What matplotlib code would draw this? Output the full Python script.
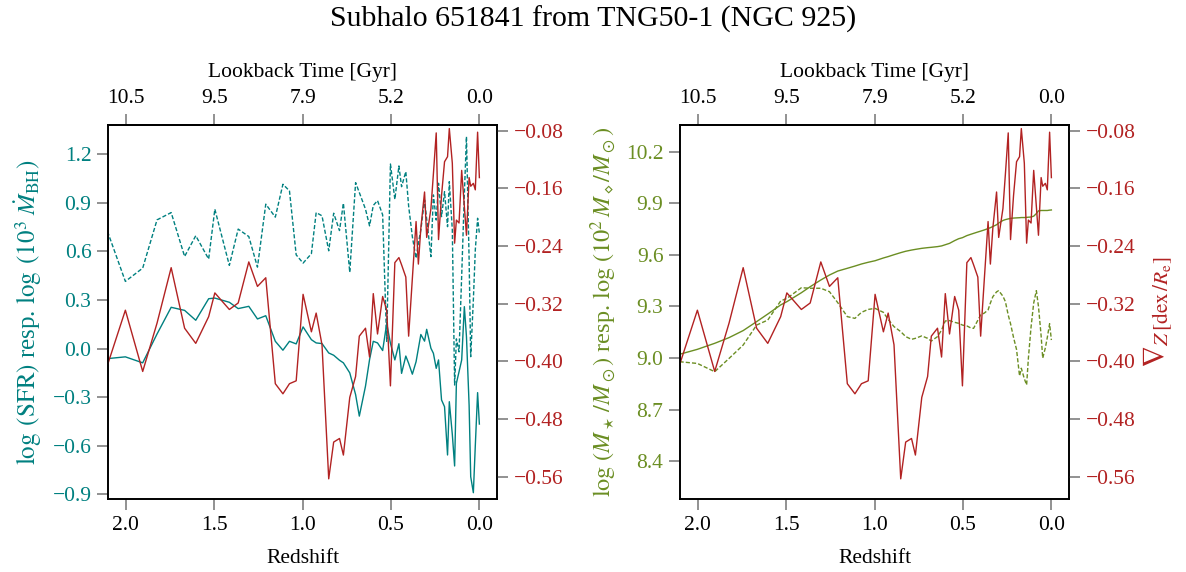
import matplotlib

matplotlib.use("Agg")
import matplotlib.pyplot as plt

# data (TNG50 snapshots 32..99)
redshift = [2.103, 2.002, 1.904, 1.823, 1.743, 1.667, 1.604, 1.531, 1.496, 1.414,
            1.364, 1.304, 1.255, 1.208, 1.154, 1.111, 1.074, 1.036, 0.997, 0.950,
            0.923, 0.890, 0.852, 0.824, 0.791, 0.769, 0.733, 0.700, 0.679, 0.644,
            0.621, 0.600, 0.576, 0.547, 0.524, 0.503, 0.478, 0.455, 0.440, 0.416,
            0.400, 0.379, 0.358, 0.345, 0.331, 0.310, 0.298, 0.274, 0.260, 0.244,
            0.231, 0.214, 0.197, 0.180, 0.170, 0.153, 0.140, 0.130, 0.115, 0.100,
            0.085, 0.073, 0.058, 0.049, 0.034, 0.023, 0.010, 0.000]

metal_grad = [-0.405, -0.329, -0.414, -0.347, -0.270, -0.354, -0.375, -0.338, -0.305, -0.328,
              -0.319, -0.262, -0.296, -0.284, -0.431, -0.445, -0.431, -0.427, -0.307, -0.359,
              -0.333, -0.377, -0.563, -0.512, -0.507, -0.530, -0.450, -0.421, -0.365, -0.354,
              -0.394, -0.306, -0.362, -0.310, -0.329, -0.434, -0.263, -0.256, -0.266, -0.283,
              -0.365, -0.285, -0.206, -0.265, -0.215, -0.165, -0.228, -0.188, -0.140, -0.083,
              -0.231, -0.170, -0.123, -0.116, -0.077, -0.125, -0.236, -0.204, -0.208, -0.135,
              -0.185, -0.225, -0.145, -0.157, -0.153, -0.162, -0.082, -0.145]

log_sfr = [-0.062, -0.051, -0.088, 0.090, 0.255, 0.236, 0.175, 0.308, 0.312, 0.286,
           0.247, 0.261, 0.183, 0.203, 0.045, -0.010, 0.045, 0.029, 0.134, 0.055,
           0.035, 0.031, -0.027, -0.041, -0.072, -0.088, -0.150, -0.284, -0.417, -0.232,
           -0.068, 0.045, 0.035, -0.012, 0.156, 0.033, -0.070, 0.030, -0.153, -0.046,
           -0.091, -0.158, -0.081, 0.000, 0.087, 0.046, 0.119, 0.002, -0.029, -0.122,
           -0.070, -0.317, -0.359, -0.657, -0.328, -0.530, -0.725, -0.214, -0.143, -0.070,
           0.259, 0.074, -0.350, -0.791, -0.890, -0.600, -0.272, -0.466]

log_bhar = [0.723, 0.415, 0.497, 0.795, 0.840, 0.569, 0.697, 0.553, 0.861, 0.514,
            0.738, 0.692, 0.503, 0.892, 0.812, 1.015, 0.974, 0.579, 0.528, 0.586,
            0.840, 0.820, 0.604, 0.836, 0.729, 0.898, 0.471, 1.025, 0.964, 0.861,
            0.758, 0.884, 0.914, 0.826, 0.045, 1.140, 0.922, 1.128, 1.000, 1.093,
            0.880, 0.691, 0.558, 0.650, 0.733, 0.918, 0.800, 0.568, 0.949, 0.794,
            1.021, 0.815, 0.969, 0.753, 1.031, 0.733, -0.225, 0.060, -0.020, 0.450,
            0.950, 1.309, 0.550, -0.050, 0.300, 0.609, 0.805, 0.712]

log_mstar = [9.022, 9.051, 9.086, 9.119, 9.160, 9.212, 9.256, 9.309, 9.328, 9.380,
             9.415, 9.454, 9.483, 9.506, 9.522, 9.535, 9.547, 9.557, 9.566, 9.582,
             9.590, 9.601, 9.613, 9.621, 9.628, 9.632, 9.638, 9.642, 9.644, 9.648,
             9.652, 9.659, 9.667, 9.683, 9.694, 9.700, 9.712, 9.720, 9.725, 9.733,
             9.738, 9.745, 9.753, 9.758, 9.765, 9.775, 9.785, 9.800, 9.805, 9.809,
             9.812, 9.814, 9.815, 9.816, 9.817, 9.817, 9.818, 9.819, 9.820, 9.825,
             9.840, 9.856, 9.858, 9.858, 9.858, 9.858, 9.860, 9.861]

log_mbh = [8.979, 8.969, 8.921, 8.998, 9.076, 9.192, 9.221, 9.332, 9.347, 9.409,
           9.406, 9.406, 9.386, 9.322, 9.241, 9.231, 9.266, 9.283, 9.289, 9.266,
           9.225, 9.183, 9.154, 9.125, 9.109, 9.115, 9.129, 9.115, 9.099, 9.125,
           9.163, 9.216, 9.218, 9.208, 9.202, 9.192, 9.187, 9.175, 9.173, 9.220,
           9.251, 9.262, 9.280, 9.320, 9.357, 9.385, 9.392, 9.360, 9.328, 9.250,
           9.200, 9.120, 9.050, 8.896, 8.941, 8.880, 8.844, 9.000, 9.180, 9.320,
           9.392, 9.300, 9.130, 9.000, 9.060, 9.120, 9.200, 9.105]

z_ticks = [2.0, 1.5, 1.0, 0.5, 0.0]
lookback_labels = ["10.5", "9.5", "7.9", "5.2", "0.0"]
sfr_ticks = [1.2, 0.9, 0.6, 0.3, 0.0, -0.3, -0.6, -0.9]
mass_ticks = [10.2, 9.9, 9.6, 9.3, 9.0, 8.7, 8.4]
grad_ticks = [-0.08, -0.16, -0.24, -0.32, -0.40, -0.48, -0.56]

TEAL = "#008080"
RED = "#B22222"
GREEN = "#6B8E23"
TICKC = "#7f7f7f"

plt.rcParams["font.family"] = ["Liberation Serif", "DejaVu Serif"]
plt.rcParams["mathtext.fontset"] = "stix"
plt.rcParams["font.size"] = 15.5
plt.rcParams["axes.linewidth"] = 1.2


def style(ax, color=None):
    ax.tick_params(direction="out", length=8, width=1.2, color=TICKC, pad=4)
    if color:
        ax.tick_params(axis="y", labelcolor=color)


def make_panel(rect):
    ax = fig.add_axes(rect)
    ax.set_xlim(2.10, -0.10)
    ax.set_xticks(z_ticks)
    ax.set_xticklabels([f"{z:.1f}" for z in z_ticks])
    ax.set_xlabel("Redshift", labelpad=10)
    top = ax.secondary_xaxis("top")
    top.set_xticks(z_ticks, labels=lookback_labels)
    top.set_xlabel("Lookback Time [Gyr]", labelpad=9)
    top.tick_params(direction="out", length=8, width=1.2, color=TICKC, pad=4)
    style(ax)
    twin = ax.twinx()
    twin.plot(redshift, metal_grad, color=RED, lw=1.0)
    twin.set_ylim(-0.591, -0.072)
    twin.set_yticks(grad_ticks)
    style(twin, RED)
    return ax, twin


fig = plt.figure(figsize=(11.86, 5.72), dpi=100)
fig.suptitle("Subhalo 651841 from TNG50-1 (NGC 925)", fontsize=21.5, y=0.99)

# left panel: SFR and BH accretion
ax1, tw1 = make_panel([0.0911, 0.1276, 0.328, 0.6539])
ax1.plot(redshift, log_sfr, color=TEAL, lw=1.0)
ax1.plot(redshift, log_bhar, color=TEAL, lw=1.0, dashes=(3, 1.5))
ax1.set_ylim(-0.929, 1.381)
ax1.set_yticks(sfr_ticks)
ax1.set_ylabel(r"$\log\;(\mathrm{SFR})$ resp. $\log\;(10^3\;\dot{M}_{\mathrm{BH}})$",
               color=TEAL, fontsize=18, labelpad=6)
style(ax1, TEAL)

# right panel: stellar and BH mass
ax2, tw2 = make_panel([0.5734, 0.1276, 0.328, 0.6539])
ax2.plot(redshift, log_mstar, color=GREEN, lw=1.0)
ax2.plot(redshift, log_mbh, color=GREEN, lw=1.0, dashes=(3, 1.5))
ax2.set_ylim(8.181, 10.355)
ax2.set_yticks(mass_ticks)
ax2.set_ylabel(r"$\log\,(M_\star\,/M_\odot)$ resp. $\log\,(10^2\,M_\diamond/M_\odot)$",
               color=GREEN, fontsize=17.5, labelpad=5)
style(ax2, GREEN)
tw2.set_ylabel(r"$\nabla_{Z\,[\mathrm{dex}\,/R_\mathrm{e}]}$", color=RED, fontsize=22, labelpad=4)

plt.savefig("out.png", dpi=100)
